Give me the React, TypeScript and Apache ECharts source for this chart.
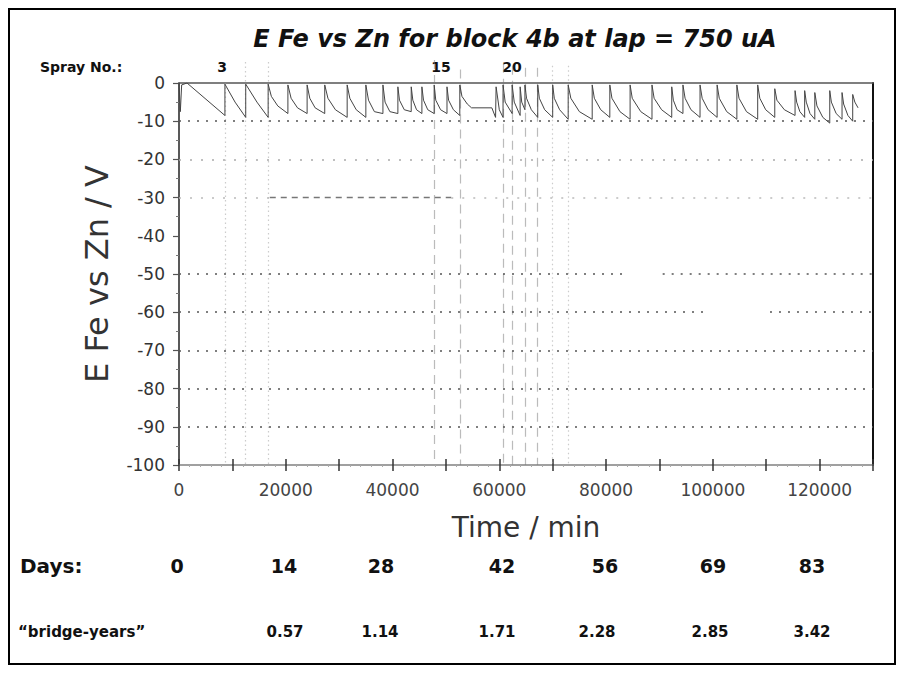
import React, { useEffect, useRef } from "react";
import * as echarts from "echarts";

// ---------- data ----------
const titleText = "E Fe vs Zn for block 4b at lap = 750 uA";
const yAxisTitle = "E Fe vs Zn / V";
const xAxisTitle = "Time / min";

// E Fe vs Zn (V) against time (min)
const efeSeries: [number, number][] = [
  [0, 0], [250, -7.5], [500, -0.5], [1500, 0], [8600, -8.5],
  [8600, -0.3], [10500, -5], [12500, -9],
  [12500, -0.3], [14600, -5], [16700, -9],
  [16700, -0.3], [17300, -3.5], [18500, -6], [20400, -8],
  [20400, -0.5], [21000, -4], [22200, -6.5], [24000, -8],
  [24000, -0.5], [24500, -4], [25500, -6.5], [27300, -8],
  [27300, -0.5], [27900, -4], [29300, -7], [31500, -9],
  [31500, -0.5], [32000, -4], [33200, -7], [35000, -9],
  [35000, -0.5], [35500, -4.5], [36600, -7.5], [38200, -8],
  [38200, -0.5], [38600, -5], [39500, -7.5], [41000, -8],
  [41000, -1], [41300, -4.5], [42200, -7], [43500, -7.5],
  [43500, -1], [43800, -4.5], [44500, -7], [45500, -8],
  [45500, -1], [45800, -4.5], [46600, -7], [47800, -8],
  [47800, -0.5], [48100, -4.5], [49000, -7], [50200, -8],
  [50200, -1], [50500, -4.5], [51400, -7], [52600, -8.5],
  [52600, -0.5], [53000, -3.5], [54000, -5.5], [54800, -6.5], [58600, -6.5], [59300, -9],
  [59400, -1], [60000, -7], [60700, -9],
  [60700, -0.5], [61100, -5], [62400, -8],
  [62400, -0.5], [62800, -5], [63900, -8.5],
  [63900, -1], [64200, -5], [64800, -7],
  [64800, -0.5], [65100, -4], [66000, -7], [67200, -9],
  [67200, -0.5], [67500, -4], [68500, -7], [70000, -9],
  [70000, -0.5], [70300, -4], [71300, -7], [72900, -9.5],
  [72900, -0.5], [73400, -4], [75000, -7.5], [77400, -9.5],
  [77400, -0.5], [77800, -4], [79000, -7], [80700, -9],
  [80700, -0.5], [81100, -4], [82600, -7.5], [84500, -9.5],
  [84500, -0.5], [84900, -4], [86500, -7.5], [88600, -9.5],
  [88600, -0.5], [89000, -4], [90400, -7], [92300, -9],
  [92300, -1], [92600, -4.5], [93300, -7], [94400, -8],
  [94400, -0.5], [94800, -4], [95900, -7], [97600, -9],
  [97600, -0.5], [98000, -4], [99100, -7], [100800, -9],
  [100800, -0.5], [101200, -4], [102600, -7.5], [104500, -9.5],
  [104500, -0.5], [104900, -4], [106300, -7.5], [108400, -9.5],
  [108400, -0.5], [108800, -4], [109900, -7], [111600, -9],
  [111600, -1.5], [112000, -4.5], [113400, -7], [115400, -8.5],
  [115400, -2], [115700, -5], [116300, -7.5], [117200, -9],
  [117200, -2], [117500, -5], [118200, -8], [119100, -9.5],
  [119100, -2.5], [119500, -6], [120600, -9], [121900, -10.5],
  [121900, -2], [122200, -5], [123100, -8], [124200, -9.5],
  [124200, -2.5], [124500, -5.5], [125300, -8.5], [126200, -10],
  [126200, -3], [126600, -5], [127200, -6.5],
];

// spray marker lines (time, top of line in V)
const sprayDottedTimes = [8600, 12500, 16700, 70000, 72900];
const sprayDottedTops = [0, 5.5, 5.5, 4.5, 4.5];
const sprayDashedTimes = [47800, 52600, 60700, 62400, 64800, 67200];
const sprayDashedTops = [6, 3.5, 5, 4.5, 4, 4];

const sprayLabels = ["3", "15", "20"];
const dayLabels = ["0", "14", "28", "42", "56", "69", "83"];
const bridgeYearLabels = ["0.57", "1.14", "1.71", "2.28", "2.85", "3.42"];

// horizontal grid lines
const darkGridLevels = [-10, -70, -80, -90];
const lightGridLevels = [-20];
const gappedGridLevels = [-50, -60];
const gapStarts = [83700, 98500];
const gapEnds = [90600, 110700];
const dashedLevel = -30;
const dashedFrom = 17000;
const dashedTo = 51000;

// ---------- layout (pixels) ----------
const sprayLabelX = [222, 441, 512];
const dayLabelX = [177, 284, 381, 502, 605, 713, 812];
const bridgeLabelX = [285, 380, 497, 597, 710, 812];

const FONT = "DejaVu Sans";

export default function App() {
  const ref = useRef<HTMLDivElement>(null);

  useEffect(() => {
    if (!ref.current) return;
    const chart = echarts.init(ref.current, undefined, { renderer: "svg" });

    const dotStyle = (color: string, gap: number) => ({
      type: [2, gap] as any,
      color,
      width: 1.5,
    });

    const markData: any[] = [];
    darkGridLevels.forEach((v) =>
      markData.push({ yAxis: v, lineStyle: dotStyle("#555", 7) })
    );
    lightGridLevels.forEach((v) =>
      markData.push({ yAxis: v, lineStyle: dotStyle("#aaa", 9) })
    );
    gappedGridLevels.forEach((v, i) => {
      const st = dotStyle("#555", 7);
      markData.push([
        { coord: [0, v], lineStyle: st },
        { coord: [gapStarts[i], v], lineStyle: st },
      ]);
      markData.push([
        { coord: [gapEnds[i], v], lineStyle: st },
        { coord: [130000, v], lineStyle: st },
      ]);
    });
    const faint = dotStyle("#bbb", 9);
    const dashed = { type: [6, 5] as any, color: "#777", width: 1.3 };
    markData.push([
      { coord: [0, dashedLevel], lineStyle: faint },
      { coord: [dashedFrom, dashedLevel], lineStyle: faint },
    ]);
    markData.push([
      { coord: [dashedFrom, dashedLevel], lineStyle: dashed },
      { coord: [dashedTo, dashedLevel], lineStyle: dashed },
    ]);
    markData.push([
      { coord: [dashedTo, dashedLevel], lineStyle: faint },
      { coord: [130000, dashedLevel], lineStyle: faint },
    ]);

    const textEl = (
      text: string,
      x: number,
      y: number,
      fontSize: number,
      extra: any = {}
    ) => ({
      type: "text",
      x,
      y,
      silent: true,
      style: {
        text,
        fontFamily: FONT,
        fontSize,
        fontWeight: "bold",
        fill: "#111",
        align: "center",
        verticalAlign: "middle",
        textAlign: "center",
        textVerticalAlign: "middle",
        ...extra,
      },
    });

    const graphics: any[] = [
      {
        type: "rect",
        shape: { x: 9, y: 9, width: 886, height: 655 },
        style: { fill: "none", stroke: "#000", lineWidth: 2 },
        silent: true,
      },
      textEl(titleText, 515, 39, 24, { fontStyle: "italic" }),
      textEl("Spray No.:", 40, 67, 14, { align: "left", textAlign: "left" }),
      textEl("Days:", 20, 566, 20, { align: "left", textAlign: "left" }),
      textEl("\u201Cbridge-years\u201D", 18, 632, 15, {
        align: "left",
        textAlign: "left",
      }),
    ];
    sprayLabels.forEach((s, i) => graphics.push(textEl(s, sprayLabelX[i], 67, 14)));
    dayLabels.forEach((s, i) => graphics.push(textEl(s, dayLabelX[i], 566, 19)));
    bridgeYearLabels.forEach((s, i) =>
      graphics.push(textEl(s, bridgeLabelX[i], 632, 15))
    );

    const option: any = {
      animation: false,
      backgroundColor: "#ffffff",
      textStyle: { fontFamily: FONT },
      grid: [
        { left: 179, right: 31, top: 83, bottom: 209, show: false },
        { left: 179, right: 31, top: 60, bottom: 209, show: false },
      ],
      xAxis: [
        {
          gridIndex: 0,
          type: "value",
          min: 0,
          max: 130000,
          interval: 10000,
          position: "bottom",
          name: xAxisTitle,
          nameLocation: "middle",
          nameGap: 48,
          nameTextStyle: { fontSize: 28, color: "#333", fontFamily: FONT },
          axisLine: { show: true, onZero: false, lineStyle: { color: "#a0a0a0", width: 2 } },
          axisTick: { show: true, length: 6, lineStyle: { color: "#333", width: 1.5 } },
          minorTick: { show: true, splitNumber: 5, length: 2, lineStyle: { color: "#aaa" } },
          axisLabel: {
            fontSize: 17,
            color: "#444",
            margin: 16,
            fontFamily: FONT,
            showMaxLabel: false,
            formatter: (v: number) => (v % 20000 === 0 && v < 130000 ? String(v) : ""),
          },
          splitLine: { show: false },
        },
        {
          gridIndex: 0,
          type: "value",
          min: 0,
          max: 130000,
          position: "top",
          axisLine: { show: true, onZero: false, lineStyle: { color: "#555", width: 1.5 } },
          axisTick: { show: false },
          axisLabel: { show: false },
          splitLine: { show: false },
        },
        {
          gridIndex: 1,
          type: "value",
          min: 0,
          max: 130000,
          interval: 10000,
          position: "bottom",
          axisLine: { show: false, onZero: false },
          axisTick: { show: true, inside: true, length: 6, lineStyle: { color: "#333", width: 1.5 } },
          axisLabel: { show: false },
          splitLine: { show: false },
        },
      ],
      yAxis: [
        {
          gridIndex: 0,
          type: "value",
          min: -100,
          max: 0,
          interval: 10,
          name: yAxisTitle,
          nameLocation: "middle",
          nameGap: 66,
          nameTextStyle: { fontSize: 32, color: "#333", fontFamily: FONT },
          axisLine: { show: true, onZero: false, lineStyle: { color: "#222", width: 1.5 } },
          axisTick: { show: true, length: 6, lineStyle: { color: "#555", width: 1.2 } },
          minorTick: { show: true, splitNumber: 2, length: 3, lineStyle: { color: "#777" } },
          axisLabel: { fontSize: 17, color: "#333", margin: 14, fontFamily: FONT },
          splitLine: { show: false },
        },
        {
          gridIndex: 0,
          type: "value",
          min: -100,
          max: 0,
          position: "right",
          axisLine: { show: true, onZero: false, lineStyle: { color: "#111", width: 2 } },
          axisTick: { show: false },
          axisLabel: { show: false },
          splitLine: { show: false },
        },
        {
          gridIndex: 1,
          type: "value",
          min: -100,
          max: 6,
          axisLine: { show: false, onZero: false },
          axisTick: { show: false },
          axisLabel: { show: false },
          splitLine: { show: false },
        },
      ],
      series: [
        {
          type: "lines",
          coordinateSystem: "cartesian2d",
          xAxisIndex: 2,
          yAxisIndex: 2,
          silent: true,
          lineStyle: { type: [1.5, 3], color: "#999", width: 1.2 },
          data: sprayDottedTimes.map((t, i) => ({
            coords: [
              [t, sprayDottedTops[i]],
              [t, -100],
            ],
          })),
        },
        {
          type: "lines",
          coordinateSystem: "cartesian2d",
          xAxisIndex: 2,
          yAxisIndex: 2,
          silent: true,
          lineStyle: { type: [9, 6], color: "#777", width: 1.2 },
          data: sprayDashedTimes.map((t, i) => ({
            coords: [
              [t, sprayDashedTops[i]],
              [t, -100],
            ],
          })),
        },
        {
          type: "line",
          xAxisIndex: 0,
          yAxisIndex: 0,
          data: efeSeries,
          showSymbol: false,
          symbol: "none",
          lineStyle: { color: "#444", width: 1 },
          markLine: {
            silent: true,
            symbol: "none",
            label: { show: false },
            data: markData,
          },
        },
      ],
      graphic: graphics,
    };

    chart.setOption(option);
    return () => chart.dispose();
  }, []);

  return (
    <div
      ref={ref}
      style={{ position: "absolute", left: 0, top: 0, width: 904, height: 674 }}
    />
  );
}
